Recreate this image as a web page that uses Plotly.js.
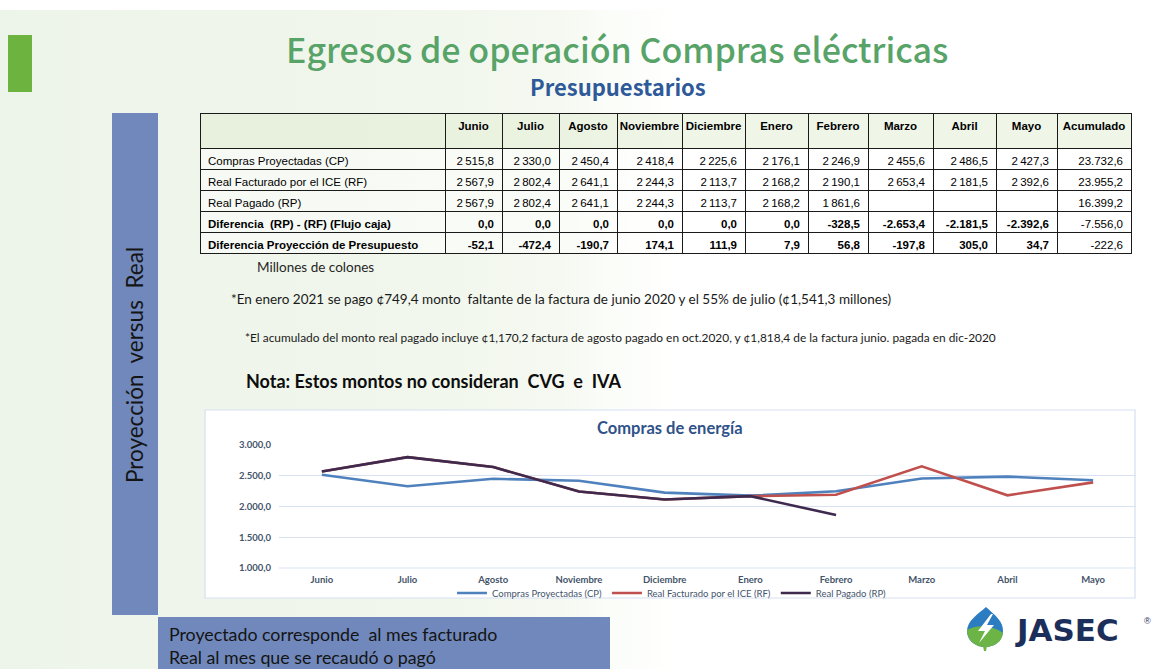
<!DOCTYPE html>
<html>
<head>
<meta charset="utf-8">
<script src="https://cdn.plot.ly/plotly-3.0.1.min.js"></script>
<style>
  html, body { margin: 0; padding: 0; }
  body {
    width: 1172px; height: 669px; overflow: hidden;
    background:
      linear-gradient(to bottom, #ffffff 0px, #ffffff 10px, rgba(255,255,255,0) 10px),
      linear-gradient(to right, #edf4ea 0%, #f0f6ec 30%, #f5f9f1 48%, #fbfdf9 52%, #ffffff 58%);
  }
  #chart { width: 1172px; height: 669px; }
</style>
</head>
<body>
<div id="chart"></div>
<script>
// ---------------- DATA ----------------
const months = ["Junio", "Julio", "Agosto", "Noviembre", "Diciembre", "Enero", "Febrero", "Marzo", "Abril", "Mayo"];
const rowLabels = [
  "Compras Proyectadas (CP)",
  "Real Facturado por el ICE (RF)",
  "Real Pagado (RP)",
  "Diferencia  (RP) - (RF) (Flujo caja)",
  "Diferencia Proyección de Presupuesto"
];
const comprasProyectadas = [2515.8, 2330.0, 2450.4, 2418.4, 2225.6, 2176.1, 2246.9, 2455.6, 2486.5, 2427.3];
const realFacturado      = [2567.9, 2802.4, 2641.1, 2244.3, 2113.7, 2168.2, 2190.1, 2653.4, 2181.5, 2392.6];
const realPagado         = [2567.9, 2802.4, 2641.1, 2244.3, 2113.7, 2168.2, 1861.6, null, null, null];
const difFlujoCaja       = [0.0, 0.0, 0.0, 0.0, 0.0, 0.0, -328.5, -2653.4, -2181.5, -2392.6];
const difPresupuesto     = [-52.1, -472.4, -190.7, 174.1, 111.9, 7.9, 56.8, -197.8, 305.0, 34.7];
const acumulado          = [23732.6, 23955.2, 16399.2, -7556.0, -222.6];
const seriesNames = ["Compras Proyectadas (CP)", "Real Facturado por el ICE (RF)", "Real Pagado (RP)"];
const yTicks = [1000, 1500, 2000, 2500, 3000];

// ---------------- HELPERS ----------------
const W = 1172, H = 669;
const X = x => x / W;
const Y = y => 1 - y / H;
function fmt(v, sep) {
  if (v === null || v === undefined) return "";
  const neg = v < 0;
  const s = Math.abs(v).toFixed(1).split(".");
  const intPart = s[0].replace(/\B(?=(\d{3})+(?!\d))/g, sep);
  return (neg ? "-" : "") + intPart + "," + s[1];
}
function pth(str) {
  return str.replace(/(-?[\d.]+),(-?[\d.]+)/g, (m, a, b) => X(+a).toFixed(5) + "," + Y(+b).toFixed(5));
}
const nb = t => t.replace(/ /g, "\u00a0");

// ---------------- TABLE ----------------
const thin = "\u2009";
const headerVals = [""].concat(months, ["Acumulado"]);
const colVals = [];
colVals.push(rowLabels.map(nb));
months.forEach((m, j) => {
  colVals.push([
    fmt(comprasProyectadas[j], thin),
    fmt(realFacturado[j], thin),
    fmt(realPagado[j], thin),
    fmt(difFlujoCaja[j], "."),
    fmt(difPresupuesto[j], ".")
  ]);
});
colVals.push(acumulado.map(v => fmt(v, ".")));
const rowWeights = ["normal", "normal", "normal", "bold", "bold"];
const cellWeights = colVals.map((col, ci) =>
  col.map((v, ri) => (ci === colVals.length - 1) ? "normal" : rowWeights[ri]));

const tblFont = "Liberation Sans, Arial, sans-serif";
const tableTrace = {
  type: "table",
  domain: { x: [X(200), X(1131)], y: [Y(255), Y(113)] },
  columnwidth: [245, 57, 57, 58, 65, 63, 63, 60, 65, 63, 61, 74],
  header: {
    values: headerVals,
    align: "center",
    height: 35,
    fill: { color: "rgba(226,236,212,0.55)" },
    line: { color: "#1a1a1a", width: 1 },
    font: { family: tblFont, size: 11.5, color: "#000000", weight: "bold" }
  },
  cells: {
    values: colVals,
    align: ["left"].concat(months.map(() => "right"), ["right"]),
    height: 21,
    fill: { color: "rgba(255,255,255,0.45)" },
    line: { color: "#1a1a1a", width: 1 },
    font: { family: tblFont, size: 11.5, color: "#000000", weight: cellWeights }
  }
};

// ---------------- LINE CHART ----------------
const lineColors = ["#4f81bd", "#c0504d", "#3d2a4e"];
const seriesData = [comprasProyectadas, realFacturado, realPagado];
const lineTraces = seriesData.map((ys, i) => ({
  type: "scatter",
  mode: "lines",
  x: months,
  y: ys,
  name: seriesNames[i],
  line: { color: lineColors[i], width: 2.6 },
  connectgaps: false,
  hoverinfo: "skip",
  xaxis: "x", yaxis: "y"
}));

const lato = "Lato, Carlito, Liberation Sans, sans-serif";

const layout = {
  width: W, height: H, autosize: false,
  margin: { l: 0, r: 0, t: 0, b: 0, pad: 0 },
  paper_bgcolor: "rgba(0,0,0,0)",
  plot_bgcolor: "rgba(0,0,0,0)",
  separators: ",.",
  showlegend: true,
  legend: {
    orientation: "h", x: X(672), xanchor: "center", y: Y(593), yanchor: "middle",
    font: { family: lato, size: 9.5, color: "#44546a" },
    bgcolor: "rgba(0,0,0,0)", itemwidth: 30, tracegroupgap: 0
  },
  xaxis: {
    domain: [X(279), X(1136)], type: "category", range: [-0.5, 9.5],
    showgrid: false, zeroline: false, showline: false, ticks: "",
    ticklabelstandoff: 4,
    tickfont: { family: lato, size: 9.5, color: "#44546a", weight: "bold" },
    fixedrange: true
  },
  yaxis: {
    domain: [Y(568), Y(445)], range: [1000, 3000],
    tickvals: yTicks, tickformat: ",.1f",
    gridcolor: "#d9e2f3", gridwidth: 1,
    zeroline: false, showline: false, ticks: "",
    ticklabelstandoff: 7,
    tickfont: { family: lato, size: 9.5, color: "#44546a", weight: "bold" },
    fixedrange: true
  },
  shapes: [
    { type: "rect", xref: "paper", yref: "paper", x0: X(8), x1: X(32), y0: Y(92), y1: Y(35),
      fillcolor: "#6db33f", line: { width: 0 }, layer: "below" },
    { type: "rect", xref: "paper", yref: "paper", x0: X(112), x1: X(158), y0: Y(615), y1: Y(113),
      fillcolor: "#7088bb", line: { width: 0 }, layer: "below" },
    { type: "rect", xref: "paper", yref: "paper", x0: X(158), x1: X(610), y0: Y(669), y1: Y(617),
      fillcolor: "#7088bb", line: { width: 0 }, layer: "below" },
    { type: "rect", xref: "paper", yref: "paper", x0: X(205), x1: X(1135), y0: Y(598), y1: Y(410),
      fillcolor: "#ffffff", line: { color: "#d6e0f1", width: 1.2 }, layer: "below" },
    { type: "line", xref: "paper", yref: "paper", x0: X(279), x1: X(1136), y0: Y(568), y1: Y(568),
      line: { color: "#d9e2f3", width: 1 }, layer: "below" },
    { type: "path", xref: "paper", yref: "paper",
      path: pth("M986,607 C995,615 1004,622 1003,632 C1002,642 994,647 985,647 C976,647 967,641 967,631 C967,621 978,614 986,607 Z"),
      fillcolor: "#2b7cc0", line: { width: 0 } },
    { type: "path", xref: "paper", yref: "paper",
      path: pth("M967,630 C976,624 993,625 1003,633 C1002,642 994,647 985,647 C976,647 967,641 967,630 Z"),
      fillcolor: "#6cb445", line: { width: 0 } },
    { type: "path", xref: "paper", yref: "paper",
      path: pth("M983,646 L987,646 L986,651 L984,651 Z"),
      fillcolor: "#6cb445", line: { width: 0 } },
    { type: "path", xref: "paper", yref: "paper",
      path: pth("M991,614 L978,631 L985,631 L979,643 L994,625 L987,625 L993,614 Z"),
      fillcolor: "#ffffff", line: { width: 0 } }
  ],
  annotations: [
    { text: "Egresos de operación Compras eléctricas", xref: "paper", yref: "paper",
      x: X(617), y: Y(49), xanchor: "center", yanchor: "middle", showarrow: false,
      font: { family: "Noto Sans CJK KR, Noto Sans, sans-serif", size: 34, color: "#58a368", weight: 500 } },
    { text: "<b>Presupuestarios</b>", xref: "paper", yref: "paper",
      x: X(618), y: Y(86), xanchor: "center", yanchor: "middle", showarrow: false,
      font: { family: "Noto Sans CJK KR, Noto Sans, sans-serif", size: 22, color: "#2e5a9a" } },
    { text: "Proyección  versus  Real", xref: "paper", yref: "paper",
      x: X(135), y: Y(365), xanchor: "center", yanchor: "middle", showarrow: false, textangle: -90,
      font: { family: lato, size: 22.5, color: "#151515" } },
    { text: "Millones de colones", xref: "paper", yref: "paper",
      x: X(255), y: Y(267), xanchor: "left", yanchor: "middle", showarrow: false,
      font: { family: lato, size: 13.5, color: "#262626" } },
    { text: "*En enero 2021 se pago ¢749,4 monto  faltante de la factura de junio 2020 y el 55% de julio (¢1,541,3 millones)",
      xref: "paper", yref: "paper", x: X(229), y: Y(299), xanchor: "left", yanchor: "middle", showarrow: false,
      font: { family: lato, size: 13.5, color: "#1a1a1a" } },
    { text: "*El acumulado del monto real pagado incluye ¢1,170,2 factura de agosto pagado en oct.2020, y ¢1,818,4 de la factura junio. pagada en dic-2020",
      xref: "paper", yref: "paper", x: X(243), y: Y(337), xanchor: "left", yanchor: "middle", showarrow: false,
      font: { family: lato, size: 11.9, color: "#1a1a1a" } },
    { text: "<b>Nota: Estos montos no consideran  CVG  e  IVA</b>", xref: "paper", yref: "paper",
      x: X(244), y: Y(381), xanchor: "left", yanchor: "middle", showarrow: false,
      font: { family: lato, size: 18, color: "#0d0d0d" } },
    { text: "Compras de energía", xref: "paper", yref: "paper",
      x: X(670), y: Y(428), xanchor: "center", yanchor: "middle", showarrow: false,
      font: { family: lato, size: 16.5, color: "#2f5289", weight: "bold" } },
    { text: "Proyectado corresponde  al mes facturado", xref: "paper", yref: "paper",
      x: X(167), y: Y(634), xanchor: "left", yanchor: "middle", showarrow: false,
      font: { family: lato, size: 17.8, color: "#141414" } },
    { text: "Real al mes que se recaudó o pagó", xref: "paper", yref: "paper",
      x: X(167), y: Y(657), xanchor: "left", yanchor: "middle", showarrow: false,
      font: { family: lato, size: 17.8, color: "#141414" } },
    { text: "<b>JASEC</b>", xref: "paper", yref: "paper",
      x: X(1013), y: Y(630), xanchor: "left", yanchor: "middle", showarrow: false,
      font: { family: "DejaVu Sans, Liberation Sans, sans-serif", size: 31, color: "#1c2f5a" } },
    { text: "®", xref: "paper", yref: "paper",
      x: X(1147), y: Y(621), xanchor: "center", yanchor: "middle", showarrow: false,
      font: { family: "Liberation Sans, Arial, sans-serif", size: 9, color: "#1c2f5a" } }
  ]
};

Plotly.newPlot("chart", [tableTrace].concat(lineTraces), layout, { staticPlot: true, displayModeBar: false });
</script>
</body>
</html>
